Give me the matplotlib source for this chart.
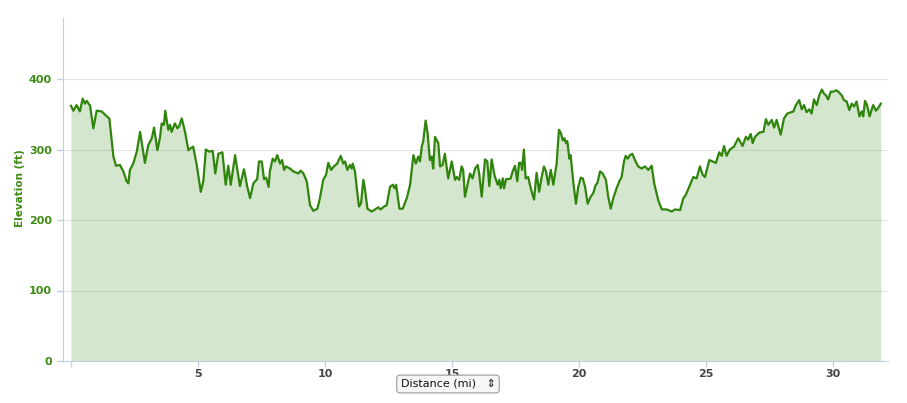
import numpy as np
import matplotlib.pyplot as plt
from matplotlib.ticker import FixedLocator

# distance (mi) and elevation (ft)
dist_a = [0.00, 0.09, 0.22, 0.35, 0.46, 0.55, 0.62, 0.75, 0.88, 1.01, 1.21, 1.41, 1.51, 1.67, 1.77,
          1.93, 2.06, 2.19, 2.26, 2.32, 2.45, 2.59, 2.72, 2.82, 2.91, 3.04, 3.18, 3.27, 3.40, 3.50,
          3.57, 3.66, 3.71, 3.83, 3.90, 3.96, 4.09, 4.19, 4.26, 4.36, 4.49, 4.62, 4.72, 4.81, 4.95,
          5.11, 5.21, 5.31, 5.44, 5.58, 5.68, 5.80, 5.96, 6.09, 6.19, 6.29, 6.46, 6.65, 6.81, 6.94,
          7.05, 7.18, 7.33, 7.40, 7.51, 7.60, 7.68, 7.78, 7.83]
elev_a = [362, 355, 363, 354, 372, 365, 369, 362, 330, 355, 354, 347, 344, 290, 277,
          278, 269, 255, 252, 271, 280, 297, 325, 302, 281, 306, 316, 331, 299, 316,
          337, 335, 355, 328, 335, 325, 337, 330, 333, 344, 325, 299, 302, 304, 278,
          240, 255, 300, 297, 298, 266, 294, 296, 250, 277, 250, 292, 248, 272, 247,
          231, 252, 258, 283, 283, 258, 260, 247, 269]

dist_b = [7.94, 8.03, 8.12, 8.23, 8.31, 8.39, 8.46, 8.62, 8.75, 8.95, 9.04, 9.15, 9.28, 9.41, 9.54,
          9.70, 9.80, 9.93, 10.04, 10.13, 10.24, 10.35, 10.48, 10.62, 10.72, 10.79, 10.88, 10.98,
          11.05, 11.09, 11.18, 11.25, 11.34, 11.42, 11.51, 11.57, 11.67, 11.84, 11.97, 12.10, 12.19,
          12.32, 12.43, 12.56, 12.67, 12.74, 12.80, 12.93, 13.06, 13.22, 13.35, 13.48, 13.58, 13.67,
          13.74, 13.81, 13.87, 13.96, 14.04, 14.13, 14.20, 14.26, 14.33, 14.46, 14.53, 14.63, 14.72,
          14.85, 14.99, 15.12, 15.19, 15.28, 15.38, 15.44, 15.51, 15.64, 15.71]
elev_b = [287, 283, 292, 280, 285, 271, 276, 273, 269, 266, 270, 266, 255, 221, 213,
          216, 231, 257, 264, 281, 271, 276, 280, 291, 280, 283, 271, 278,
          273, 280, 269, 245, 219, 224, 257, 245, 216, 212, 215, 218, 215,
          219, 221, 247, 250, 245, 250, 216, 216, 231, 250, 292, 280, 290,
          283, 304, 312, 341, 323, 285, 290, 273, 318, 309, 276, 278, 294,
          259, 283, 257, 261, 257, 276, 271, 233, 255, 266]

dist_c = [15.81, 15.91, 16.01, 16.07, 16.17, 16.30, 16.39, 16.47, 16.56, 16.67, 16.73, 16.80, 16.86,
          16.92, 17.00, 17.05, 17.13, 17.22, 17.31, 17.39, 17.48, 17.57, 17.64, 17.72, 17.76, 17.83,
          17.90, 18.00, 18.10, 18.23, 18.33, 18.43, 18.53, 18.62, 18.70, 18.79, 18.89, 18.99, 19.12,
          19.21, 19.29, 19.36, 19.42, 19.49, 19.54, 19.62, 19.67, 19.78, 19.88, 19.97, 20.07, 20.15,
          20.24, 20.34, 20.46, 20.56, 20.66, 20.72, 20.83, 20.93, 21.06, 21.15, 21.25, 21.35, 21.48,
          21.59, 21.68, 21.77, 21.84, 21.92, 22.01, 22.10, 22.20, 22.33, 22.47, 22.60, 22.73, 22.86,
          22.96, 23.12, 23.26, 23.45, 23.58]
elev_c = [259, 273, 278, 266, 233, 286, 283, 248, 286, 264, 257, 250, 257,
          245, 259, 245, 258, 258, 259, 269, 277, 255, 281, 281, 271, 300,
          259, 261, 245, 229, 267, 240, 261, 276, 269, 250, 271, 250, 280,
          328, 323, 313, 316, 309, 312, 287, 292, 252, 223, 247, 260, 259,
          247, 223, 233, 238, 250, 252, 269, 266, 257, 233, 216, 231, 245,
          255, 261, 283, 291, 287, 292, 294, 285, 276, 273, 276, 271, 277,
          252, 228, 215, 215, 213]

dist_d = [23.65, 23.78, 23.98, 24.11, 24.21, 24.37, 24.50, 24.63, 24.76, 24.87, 24.96, 25.13, 25.26,
          25.39, 25.52, 25.62, 25.71, 25.81, 25.94, 26.10, 26.27, 26.44, 26.57, 26.66, 26.76, 26.84,
          26.93, 27.10, 27.26, 27.36, 27.45, 27.59, 27.68, 27.78, 27.94, 28.07, 28.20, 28.44, 28.54,
          28.67, 28.77, 28.86, 28.96, 29.07, 29.16, 29.25, 29.36, 29.46, 29.56, 29.65, 29.72, 29.81,
          29.91, 30.01, 30.12, 30.21, 30.34, 30.43, 30.54, 30.64, 30.74, 30.83, 30.93, 31.04, 31.13,
          31.19, 31.26, 31.34, 31.44, 31.58, 31.69, 31.78, 31.88]
elev_d = [212, 215, 214, 231, 236, 250, 261, 259, 276, 264, 261, 285, 283,
          281, 296, 291, 305, 291, 300, 304, 316, 305, 318, 314, 322, 309,
          318, 324, 325, 343, 335, 342, 331, 342, 321, 344, 351, 354, 363,
          370, 357, 363, 353, 357, 351, 371, 363, 377, 385, 379, 377, 371,
          382, 382, 384, 382, 377, 370, 368, 356, 365, 361, 368, 347, 354,
          347, 369, 363, 347, 363, 355, 359, 365]

xticks = [0, 5, 10, 15, 20, 25, 30]
yticks = [0, 100, 200, 300, 400]

dist = np.array(dist_a + dist_b + dist_c + dist_d)
elev = np.array(elev_a + elev_b + elev_c + elev_d)

green = '#2f850c'
axcol = '#c0d0e0'
labgreen = '#3d8c14'

fig = plt.figure(figsize=(9.07, 4.03), dpi=100)
ax = fig.add_axes([63 / 907, 42 / 403, 825 / 907, 343 / 403])

ax.fill_between(dist, elev, 0, color=green, alpha=0.2, linewidth=0, zorder=2)
ax.plot(dist, elev, color=green, linewidth=1.6, zorder=3)

ax.set_xlim(-8 / 25.4, 817 / 25.4)
ax.set_ylim(0, 343 / 0.705)

ax.yaxis.set_major_locator(FixedLocator(yticks))
ax.set_yticklabels([str(v) for v in yticks], color=labgreen, fontsize=8, fontweight='bold')
ax.xaxis.set_major_locator(FixedLocator(xticks))
ax.set_xticklabels(['' if v == 0 else str(v) for v in xticks], color='#444444',
                   fontsize=8, fontweight='bold')
ax.tick_params(axis='y', length=4, width=1, color=axcol, pad=4)
ax.tick_params(axis='x', length=4, width=1, color=axcol, pad=2)

for g in yticks[1:]:
    ax.axhline(g, color='#e4e4e4', linewidth=0.8, zorder=1)

for s in ['top', 'right']:
    ax.spines[s].set_visible(False)
ax.spines['left'].set_color(axcol)
ax.spines['bottom'].set_color(axcol)
ax.spines['left'].set_zorder(4)
ax.spines['bottom'].set_zorder(4)

fig.text(20 / 907, 1 - 188 / 403, 'Elevation (ft)', rotation=90, color=labgreen,
         fontsize=7.5, fontweight='bold', ha='center', va='center')

fig.text(448 / 907, 1 - 384 / 403, 'Distance (mi)   \u21d5', color='#111111', fontsize=8,
         ha='center', va='center',
         bbox=dict(boxstyle='round,pad=0.35,rounding_size=0.3', fc='#f6f6f6', ec='#999999', lw=0.8))

fig.savefig('out.png', dpi=100)
